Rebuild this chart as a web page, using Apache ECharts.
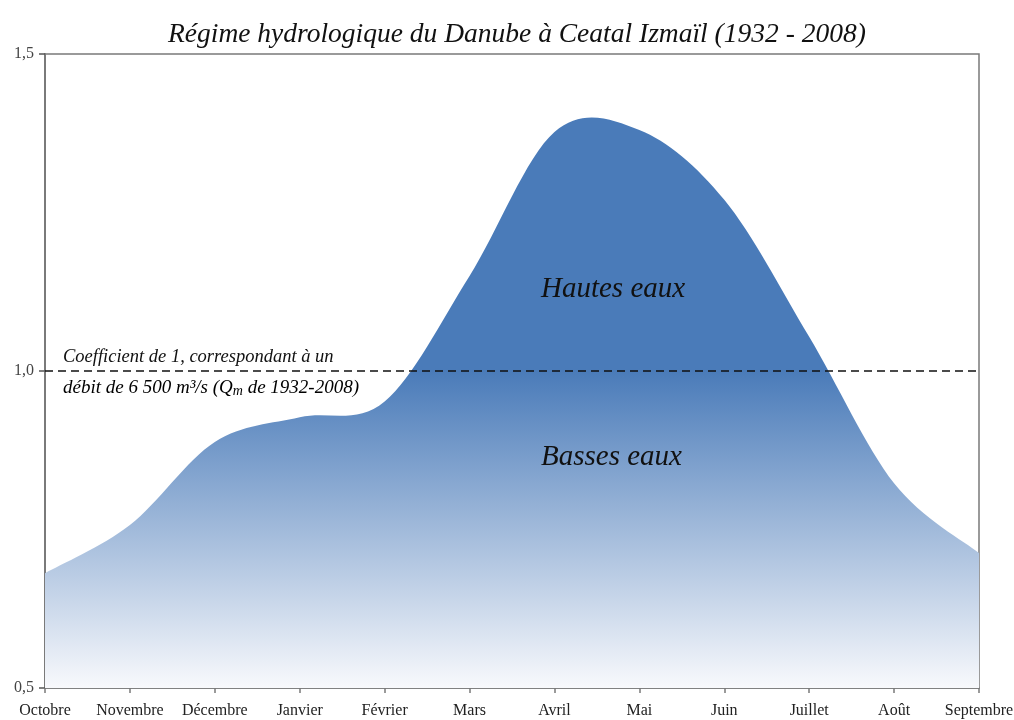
<!DOCTYPE html>
<html>
<head>
<meta charset="utf-8">
<script src="https://cdn.jsdelivr.net/npm/echarts@6/dist/echarts.min.js"></script>
<style>
html,body{margin:0;padding:0;background:#fff;}
#c{width:1014px;height:720px;}
</style>
</head>
<body>
<div id="c"></div>
<script>
const months = ['Octobre','Novembre','Décembre','Janvier','Février','Mars','Avril','Mai','Juin','Juillet','Août','Septembre'];
const coefficients = [0.681, 0.757, 0.888, 0.927, 0.952, 1.150, 1.377, 1.380, 1.270, 1.054, 0.823, 0.713];
const referenceLevel = 1.0;
const yTicks = [0.5, 1.0, 1.5];

const serif = '"Liberation Serif", "DejaVu Serif", serif';
const chart = echarts.init(document.getElementById('c'), null, {renderer: 'canvas'});

// Smooth area through the monthly values (Catmull-Rom spline mapped through the chart's scales)
function renderArea(params, api) {
  if (params.dataIndex !== 0) return null;
  const pts = coefficients.map((v, i) => api.coord([i, v]));
  const base = api.coord([0, yTicks[0]])[1];
  const refY = api.coord([0, referenceLevel])[1];
  const n = pts.length;
  let d = 'M' + pts[0][0] + ' ' + base + ' L' + pts[0][0] + ' ' + pts[0][1];
  for (let i = 0; i < n - 1; i++) {
    const p0 = pts[Math.max(i - 1, 0)], p1 = pts[i], p2 = pts[i + 1], p3 = pts[Math.min(i + 2, n - 1)];
    const c1x = p1[0] + (p2[0] - p0[0]) / 6, c1y = p1[1] + (p2[1] - p0[1]) / 6;
    const c2x = p2[0] - (p3[0] - p1[0]) / 6, c2y = p2[1] - (p3[1] - p1[1]) / 6;
    d += ' C' + c1x + ' ' + c1y + ' ' + c2x + ' ' + c2y + ' ' + p2[0] + ' ' + p2[1];
  }
  d += ' L' + pts[n - 1][0] + ' ' + base + ' Z';
  return {
    type: 'path',
    shape: {pathData: d},
    style: {
      fill: new echarts.graphic.LinearGradient(0, refY, 0, base, [
        {offset: 0, color: '#4a7bb9'},
        {offset: 1, color: '#f8f9fc'}
      ], true),
      stroke: 'none'
    }
  };
}

chart.setOption({
  backgroundColor: '#ffffff',
  animation: false,
  title: {
    text: 'Régime hydrologique du Danube à Ceatal Izmaïl (1932 - 2008)',
    left: 163,
    top: 16,
    textStyle: {fontFamily: serif, fontStyle: 'italic', fontWeight: 'normal', fontSize: 27.5, color: '#111'}
  },
  grid: {left: 45, right: 35, top: 54, bottom: 32, outerBoundsMode: 'none', containLabel: false,
    show: true, borderColor: '#7a7a7a', borderWidth: 1.5, backgroundColor: 'transparent'},
  xAxis: {
    type: 'category',
    data: months,
    boundaryGap: false,
    axisLine: {lineStyle: {color: '#7a7a7a', width: 1.5}},
    axisTick: {show: true, length: 5, lineStyle: {color: '#7a7a7a', width: 1.5}},
    axisLabel: {fontFamily: serif, fontSize: 16, color: '#222', margin: 15, interval: 0, hideOverlap: false}
  },
  yAxis: {
    type: 'value',
    min: yTicks[0],
    max: yTicks[yTicks.length - 1],
    interval: 0.5,
    splitLine: {show: false},
    axisLine: {show: true, lineStyle: {color: '#7a7a7a', width: 2}},
    axisTick: {show: true, length: 6, lineStyle: {color: '#555', width: 1.5}},
    axisLabel: {fontFamily: serif, fontSize: 16, color: '#444', margin: 11,
      formatter: v => v.toFixed(1).replace('.', ',')}
  },
  series: [{
    type: 'custom',
    renderItem: renderArea,
    data: coefficients.map((v, i) => [i, v]),
    silent: true,
    z: 2
  }, {
    type: 'line',
    data: [],
    markLine: {
      silent: true,
      symbol: 'none',
      label: {show: false},
      lineStyle: {color: '#111', type: [8, 5], width: 1.5},
      data: [{yAxis: referenceLevel}]
    },
    z: 3
  }],
  graphic: [
    {type: 'text', left: 63, top: 348, z: 10, style: {text: 'Coefficient de 1, correspondant à un', font: 'italic 18.5px ' + serif, fill: '#111'}},
    {type: 'text', left: 63, top: 378, z: 10, style: {
      text: '{a|débit de 6 500 m³/s (Q}{s|m}{a| de 1932-2008)}',
      rich: {
        a: {fontFamily: serif, fontStyle: 'italic', fontSize: 19, color: '#111'},
        s: {fontFamily: serif, fontStyle: 'italic', fontSize: 14, color: '#111', padding: [7, 0, 0, 0]}
      }
    }},
    {type: 'text', left: 541, top: 275, z: 10, style: {text: 'Hautes eaux', font: 'italic 29px ' + serif, fill: '#111'}},
    {type: 'text', left: 541, top: 443, z: 10, style: {text: 'Basses eaux', font: 'italic 29px ' + serif, fill: '#111'}}
  ]
});
</script>
</body>
</html>
